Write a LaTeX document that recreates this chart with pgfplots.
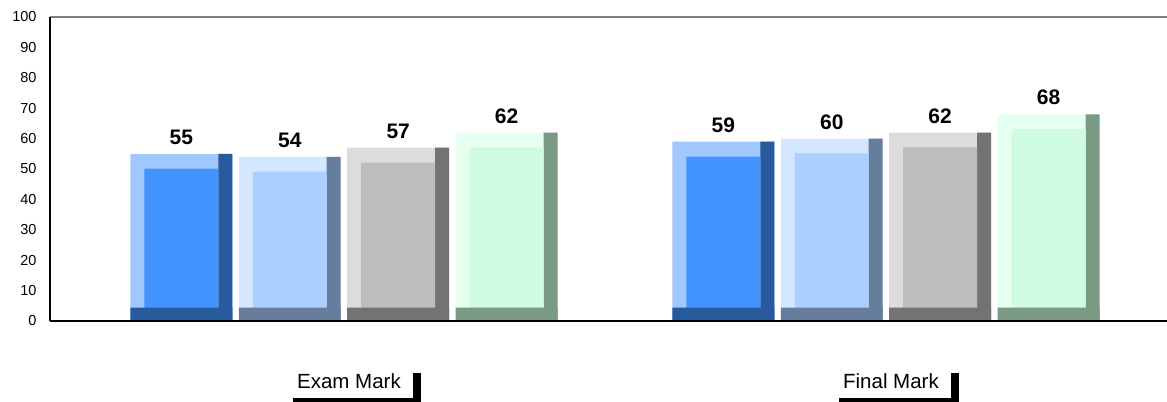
\documentclass[border=0pt]{standalone}
\usepackage{pgfplots}
\pgfplotsset{compat=1.18}
\usepackage{pgfplotstable}
\usepackage{fontspec}
\setmainfont{Liberation Sans}
\usetikzlibrary{shadows}

\pgfplotstableread{
x v1 v2 v3 v4
0 55 54 57 62
1 59 60 62 68
}\marks

\definecolor{aL}{RGB}{160,200,255}
\definecolor{aF}{RGB}{67,148,255}
\definecolor{aD}{RGB}{39,91,158}
\definecolor{bL}{RGB}{213,230,255}
\definecolor{bF}{RGB}{171,207,255}
\definecolor{bD}{RGB}{102,126,156}
\definecolor{cL}{RGB}{220,220,220}
\definecolor{cF}{RGB}{189,189,189}
\definecolor{cD}{RGB}{115,115,115}
\definecolor{dL}{RGB}{229,255,240}
\definecolor{dF}{RGB}{207,252,224}
\definecolor{dD}{RGB}{123,154,134}

% #1 column, #2 shift, #3 right-strip shift, #4 light, #5 face, #6 dark, #7 label xshift
\newcommand\bevbar[7]{%
 \addplot[ybar, draw=none, fill=#4, bar width=0.188, bar shift=#2, nodes near coords,
   every node near coord/.append style={xshift=#7}] table[x=x,y=#1]{\marks};
 \addplot[ybar, draw=none, fill=#6, bar width=0.0258, bar shift=#3] table[x=x,y=#1]{\marks};
 \addplot[ybar, draw=none, fill=#5, bar width=0.1364, bar shift=#2] table[x=x,y expr=\thisrow{#1}-4.9]{\marks};
 \addplot[ybar, draw=none, fill=#6, bar width=0.188, bar shift=#2] table[x=x,y expr=4.4]{\marks};
}

\begin{document}
\begin{tikzpicture}
\begin{axis}[
  scale only axis,
  width=1117bp, height=304bp,
  xmin=-0.5424, xmax=1.5185,
  ymin=0, ymax=100,
  ytick={0,10,...,100},
  xtick={0,1},
  xticklabels={Exam Mark, Final Mark},
  major tick length=0pt,
  axis line style={draw=none},
  /pgf/number format/assume math mode=true,
  yticklabel style={font=\fontsize{14.5bp}{16bp}\selectfont, xshift=-10bp},
  xticklabel style={font=\fontsize{20.5bp}{21bp}\selectfont, fill=white,
     inner xsep=12bp, inner ysep=9bp, text height=14.5bp, text depth=0pt,
     anchor=north, yshift=-44bp, xshift=5bp,
     drop shadow={shadow xshift=8bp, shadow yshift=-8bp, fill=black, opacity=1}},
  nodes near coords style={font=\bfseries\fontsize{21bp}{22bp}\selectfont,
     anchor=south, inner sep=0pt, yshift=9bp, black},
  clip=false,
]
\bevbar{v1}{-0.3}{-0.2189}{aL}{aF}{aD}{-162.6bp}
\bevbar{v2}{-0.1}{-0.0189}{bL}{bF}{bD}{-54.2bp}
\bevbar{v3}{0.1}{0.1811}{cL}{cF}{cD}{54.2bp}
\bevbar{v4}{0.3}{0.3811}{dL}{dF}{dD}{162.6bp}
\draw[gray, line width=1.5bp] (rel axis cs:0,1) -- (rel axis cs:1,1);
\draw[black, line width=1.5bp] (rel axis cs:0,0) -- (rel axis cs:0,1);
\draw[black, line width=2bp] (rel axis cs:0,0) -- (rel axis cs:1,0);
\coordinate (o) at (rel axis cs:0,0);
\end{axis}
\pgfresetboundingbox
\path ([shift={(-50bp,-81bp)}]o) rectangle ([shift={(1117bp,321bp)}]o);
\end{tikzpicture}
\end{document}
